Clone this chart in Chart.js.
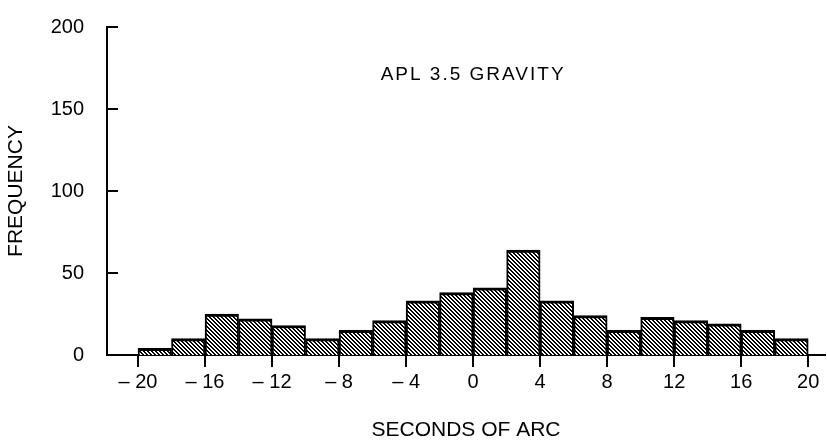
<!DOCTYPE html>
<html>
<head>
<meta charset="utf-8">
<script src="https://cdn.jsdelivr.net/npm/chart.js@4.4.1/dist/chart.umd.min.js"></script>
<style>
  html, body { margin: 0; padding: 0; background: #fff; }
  #wrap { width: 827px; height: 446px; }
</style>
</head>
<body>
<div id="wrap"><canvas id="histChart" width="827" height="446"></canvas></div>
<script>
// bin centres (seconds of arc), 2-second bins from -20 to 20
const binCenters = [-19, -17, -15, -13, -11, -9, -7, -5, -3, -1, 1, 3, 5, 7, 9, 11, 13, 15, 17, 19]
const frequency = [4, 10, 25, 22, 18, 10, 15, 21, 33, 38, 41, 64, 33, 24, 15, 23, 21, 19, 15, 10]
const xTicks = [-20, -16, -12, -8, -4, 0, 4, 8, 12, 16, 20]
const yTicks = [0, 50, 100, 150, 200]

const fontFamily = "'Liberation Sans', Arial, sans-serif"

// diagonal hatch fill like the printed figure
function makeHatch() {
  const c = document.createElement('canvas')
  c.width = 4
  c.height = 4
  const g = c.getContext('2d')
  g.fillStyle = '#fff'
  g.fillRect(0, 0, 4, 4)
  g.fillStyle = '#000'
  for (let i = 0; i < 4; i++) {
    g.fillRect(i, i, 1, 1)
    g.fillRect((i + 1) % 4, i, 1, 1)
  }
  return g.createPattern(c, 'repeat')
}

const innerTicks = {
  id: 'innerTicks',
  afterDraw(chart) {
    const ctx = chart.ctx
    const y = chart.scales.y
    const left = chart.chartArea.left
    ctx.save()
    ctx.strokeStyle = '#000'
    ctx.lineWidth = 2
    yTicks.forEach(v => {
      const py = Math.round(y.getPixelForValue(v))
      ctx.beginPath()
      ctx.moveTo(left, py)
      ctx.lineTo(left + 11, py)
      ctx.stroke()
    })
    ctx.restore()
  }
}

const plotLabel = {
  id: 'plotLabel',
  afterDraw(chart) {
    const ctx = chart.ctx
    ctx.save()
    ctx.fillStyle = '#000'
    ctx.font = '19px ' + fontFamily
    ctx.letterSpacing = '2px'
    ctx.textAlign = 'center'
    ctx.textBaseline = 'middle'
    ctx.fillText('APL 3.5 GRAVITY', chart.scales.x.getPixelForValue(0), chart.scales.y.getPixelForValue(171))
    ctx.restore()
  }
}

const ctx = document.getElementById('histChart').getContext('2d')

new Chart(ctx, {
  type: 'bar',
  data: {
    datasets: [
      {
        data: binCenters.map((x, i) => ({ x: x, y: frequency[i] })),
        backgroundColor: makeHatch(),
        borderColor: '#000',
        borderWidth: { top: 3, left: 2, right: 2, bottom: 0 },
        borderSkipped: 'start',
        barPercentage: 1,
        categoryPercentage: 1
      }
    ]
  },
  options: {
    responsive: false,
    animation: false,
    devicePixelRatio: 1,
    layout: { padding: { left: 0, right: 2, top: 17, bottom: 0 } },
    plugins: {
      legend: { display: false },
      tooltip: { enabled: false }
    },
    scales: {
      x: {
        type: 'linear',
        offset: false,
        min: -21.85,
        max: 21,
        afterBuildTicks: s => { s.ticks = xTicks.map(v => ({ value: v })) },
        afterFit: s => { s.height = 91 },
        grid: { display: true, offset: false, drawOnChartArea: false, drawTicks: true, tickLength: 12, color: '#000', lineWidth: 2 },
        border: { display: true, color: '#000', width: 2 },
        ticks: {
          color: '#000',
          font: { family: fontFamily, size: 20 },
          padding: 3,
          maxRotation: 0,
          autoSkip: false,
          callback: v => v < 0 ? '\u2013 ' + Math.abs(v) : String(v)
        },
        title: {
          display: true,
          text: 'SECONDS OF ARC',
          color: '#000',
          font: { family: fontFamily, size: 21 },
          padding: { top: 0, bottom: 3 }
        }
      },
      y: {
        min: 0,
        max: 200,
        afterBuildTicks: s => { s.ticks = yTicks.map(v => ({ value: v })) },
        afterFit: s => { s.width = 107 },
        grid: { display: false },
        border: { display: true, color: '#000', width: 2 },
        ticks: {
          color: '#000',
          font: { family: fontFamily, size: 20 },
          padding: 15
        },
        title: {
          display: true,
          text: 'FREQUENCY',
          color: '#000',
          font: { family: fontFamily, size: 21 },
          padding: { top: 4, bottom: 0 }
        }
      }
    }
  },
  plugins: [innerTicks, plotLabel]
})
</script>
</body>
</html>
